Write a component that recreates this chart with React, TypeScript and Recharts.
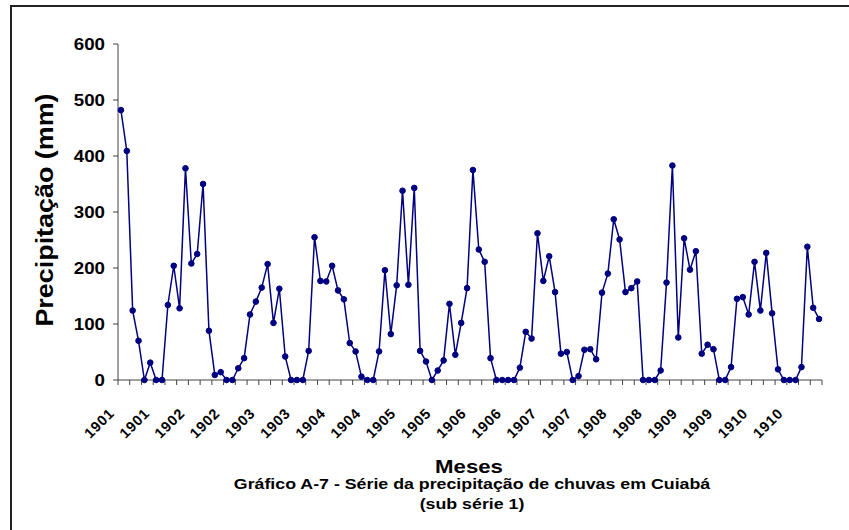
import { Line, LineChart, XAxis, YAxis } from "recharts";

// one label every 6 months (Jan / Jul)
const xLabels = [
  "1901", "1901", "1902", "1902", "1903", "1903", "1904", "1904", "1905", "1905",
  "1906", "1906", "1907", "1907", "1908", "1908", "1909", "1909", "1910", "1910",
];

// monthly rainfall, mm
const precip1901_1905 = [
  482, 409, 124, 70, 0, 31, 0, 0, 134, 204, 128, 378,
  208, 225, 350, 88, 9, 14, 0, 0, 21, 39, 117, 140,
  165, 207, 102, 163, 42, 0, 0, 0, 52, 255, 177, 176,
  204, 160, 144, 66, 51, 6, 0, 0, 51, 196, 82, 169,
  338, 170, 343, 52, 33, 0, 17, 35, 136, 45, 102, 164,
];
const precip1906_1910 = [
  375, 233, 211, 39, 0, 0, 0, 0, 22, 86, 74, 262,
  177, 221, 157, 47, 50, 0, 7, 54, 55, 37, 156, 190,
  287, 251, 157, 164, 176, 0, 0, 0, 17, 174, 383, 76,
  253, 197, 230, 47, 63, 55, 0, 0, 23, 145, 148, 117,
  211, 124, 227, 119, 19, 0, 0, 0, 23, 238, 129, 109,
];
const precip = [...precip1901_1905, ...precip1906_1910];

const yTicks = [0, 100, 200, 300, 400, 500, 600];

const data = precip.map((mm, i) => ({ i, mm }));
// tick marks sit between months, one every two months
const boundaryTicks = Array.from({ length: precip.length / 2 + 1 }, (_, k) => k * 2 - 0.5);

const FONT = "'Liberation Sans', Arial, Helvetica, sans-serif";
const STRETCH = "scale(1.17,1)";
const NAVY = "#000080";
const AXIS = "#444";

const monthLabel = (v: number) => {
  const n = v + 0.5;
  return n % 6 === 0 ? xLabels[n / 6] ?? "" : "";
};

function ValueTick(props: any) {
  const { x, y, payload } = props;
  return (
    <g transform={`translate(${x - 6},${y})`}>
      <text
        transform={STRETCH}
        textAnchor="end"
        dy="0.36em"
        fontSize={16}
        fontWeight="bold"
        fontFamily={FONT}
        fill="#000"
      >
        {payload.value}
      </text>
    </g>
  );
}

function YTitle({ viewBox }: any) {
  const cy = viewBox.y + viewBox.height / 2 - 2;
  return (
    <text
      transform={`translate(53,${cy}) rotate(-90) ${STRETCH}`}
      textAnchor="middle"
      fontSize={23}
      fontWeight="bold"
      fontFamily={FONT}
      fill="#000"
    >
      Precipitação (mm)
    </text>
  );
}

function XTitle({ viewBox }: any) {
  const cx = viewBox.x + viewBox.width / 2;
  return (
    <text
      transform={`translate(${cx - 1},473) ${STRETCH}`}
      textAnchor="middle"
      fontSize={19}
      fontWeight="bold"
      fontFamily={FONT}
      fill="#000"
    >
      Meses
    </text>
  );
}

export default function App() {
  return (
    <div
      style={{
        position: "absolute",
        left: 0,
        top: 0,
        width: 849,
        height: 530,
        background: "#fff",
        overflow: "hidden",
      }}
    >
      <div
        style={{
          position: "absolute",
          left: 10,
          top: 5,
          width: 839,
          height: 525,
          borderTop: "2px solid #222",
          borderLeft: "2px solid #222",
        }}
      />
      <div style={{ position: "absolute", left: 0, top: 0 }}>
        <LineChart
          width={849}
          height={530}
          data={data}
          margin={{ top: 44, right: 27, left: 0, bottom: 0 }}
        >
          <XAxis
            dataKey="i"
            type="number"
            domain={[-0.5, 119.5]}
            ticks={boundaryTicks}
            interval={0}
            tickSize={5}
            height={150}
            stroke={AXIS}
            tickFormatter={monthLabel}
            tick={{
              angle: -45,
              textAnchor: "end",
              dx: -10,
              dy: 20,
              fontSize: 14.5,
              fontWeight: "bold",
              fontFamily: FONT,
              letterSpacing: 0.8,
              fill: "#000",
            }}
            label={<XTitle />}
          />
          <YAxis
            type="number"
            domain={[0, 600]}
            ticks={yTicks}
            interval={0}
            tickSize={5}
            width={118}
            stroke={AXIS}
            tick={ValueTick}
            label={<YTitle />}
          />
          <Line
            type="linear"
            dataKey="mm"
            stroke={NAVY}
            strokeWidth={1.5}
            dot={{ r: 2.8, fill: NAVY, stroke: NAVY, strokeWidth: 1 }}
            activeDot={false}
            isAnimationActive={false}
          />
        </LineChart>
      </div>
      <svg
        width={849}
        height={530}
        style={{ position: "absolute", left: 0, top: 0, pointerEvents: "none" }}
      >
        <g fontFamily={FONT} fontWeight="bold" fontSize={15.2} fill="#000" textAnchor="middle">
          <text transform={`translate(472,488.5) ${STRETCH}`}>
            Gráfico A-7 - Série da precipitação de chuvas em Cuiabá
          </text>
          <text transform={`translate(472,509) ${STRETCH}`}>(sub série 1)</text>
        </g>
      </svg>
    </div>
  );
}
